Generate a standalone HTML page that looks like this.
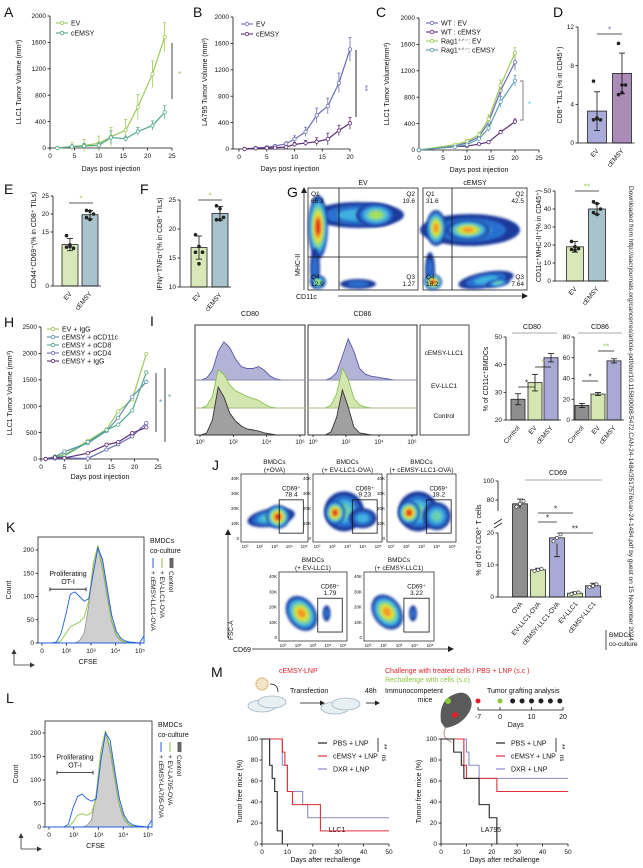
<!DOCTYPE html>
<html><head><meta charset="utf-8">
<style>
html,body{margin:0;padding:0;background:#fff;}
svg{display:block;font-family:"Liberation Sans",Arial,sans-serif;}
</style></head>
<body>
<svg id="fig" width="643" height="868" viewBox="0 0 643 868" xmlns="http://www.w3.org/2000/svg">
<defs><filter id="soft" x="-20%" y="-20%" width="140%" height="140%"><feGaussianBlur stdDeviation="1.3"/></filter></defs>
</svg>
<script>
// ---------- DATA ----------
const aDays=[1.5,4.5,7,10,12.5,15.5,18,21,23.5];
const aEV=[0,20,40,70,170,270,620,1120,1680];
const aEVerr=[10,60,90,110,140,160,190,200,220];
const aCE=[0,20,30,40,160,140,250,340,540];
const aCEerr=[10,30,40,40,100,40,60,70,100];

const bDays=[1,3,5,6.5,8.5,10,12,14,16,18,20];
const bEV=[0,15,25,45,80,150,260,510,650,1000,1510];
const bEVerr=[5,10,15,20,30,50,70,110,120,150,180];
const bCE=[0,10,15,20,30,70,90,110,150,280,390];
const bCEerr=[5,5,10,10,15,30,40,60,90,80,90];

const cDays=[0,7.5,10,12.5,14.5,17,20];
const cWTEV=[0,60,110,200,420,900,1330];
const cWTEVerr=[0,20,30,40,60,100,120];
const cWTCE=[0,50,60,90,120,270,430];
const cWTCEerr=[0,15,20,20,20,30,40];
const cRagEV=[0,80,130,230,470,980,1470];
const cRagEVerr=[0,20,30,40,60,80,80];
const cRagCE=[0,50,80,170,330,730,1050];
const cRagCEerr=[0,15,20,30,50,80,80];

const hDays=[1,3,5,10,14,16.5,19.5,22.5];
const hEVIgG=[0,50,80,340,560,900,1130,1990];
const hCD11c=[0,40,140,300,530,780,1180,1460];
const hCD8=[0,30,60,320,550,650,920,1640];
const hCD4=[0,10,20,10,180,280,430,680];
const hIgG=[0,30,20,110,270,320,490,600];

const barCats2=['EV','cEMSY'];
const dVals=[3.3,7.2], dErr=[2.0,2.1];
const dDotsEV=[6.4,2.6,2.4,2.4,2.5], dDotsCE=[10.3,6.0,6.0,5.0,5.2];
const eVals=[11.5,19.8], eErr=[1.7,1.2];
const eDotsEV=[14,11,10.5,10.8,11.4], eDotsCE=[21,20.8,20,19,18.5];
const fVals=[16.8,22.7], fErr=[2.0,1.2];
const fDotsEV=[19,17,16,16,14], fDotsCE=[24,23.5,22,21.6,21.6];
const gVals=[19,40], gErr=[3,3];
const gDotsEV=[22,19,18,17.5,17], gDotsCE=[44,43,40,38,37];
const iCats=['Control','EV','cEMSY'];
const i80Vals=[27.5,33.5,42.5], i80Err=[2,3,1.5];
const i86Vals=[14,25,57], i86Err=[2,1.5,2];
const jCats=['OVA','EV-LLC1-OVA','cEMSY-LLC1-OVA','EV-LLC1','cEMSY-LLC1'];
const jVals=[76,8.5,18.5,1.2,3.5], jErr=[5,0.5,1.8,0.4,0.8];

const sLLCpbsT=[0,3,4,5,6,8], sLLCpbsV=[100,75,62.5,50,12.5,0];
const sLLCceT=[0,8,9,10,12,23], sLLCceV=[100,87.5,75,50,37.5,12.5];
const sLLCdxT=[0,8,10,16,18], sLLCdxV=[100,75,50,37.5,25];
const sLApbsT=[0,5,8,9,15,19,22], sLApbsV=[100,87.5,75,62.5,37.5,25,0];
const sLAceT=[0,9,10,22], sLAceV=[100,75,62.5,50];
const sLAdxT=[0,10,11,15], sLAdxV=[100,87.5,75,62.5];

const kBlue=[0,0,0,0,2,20,60,105,110,100,90,95,150,205,180,120,60,25,10,4,2,1,0,15];
const kGreen=[0,0,0,0,0,5,20,35,40,45,55,90,170,210,170,110,50,20,6,2,1,0,0,0];
const kGray=[0,0,0,0,0,0,0,0,0,5,20,80,170,205,160,100,45,15,5,1,0,0,0,0];
const lBlue=[0,0,0,0,0,5,40,65,70,60,55,60,140,200,185,120,60,25,10,4,2,1,0,15];
const lGreen=[0,0,0,0,0,0,10,25,28,25,30,60,160,205,170,110,50,20,6,2,1,0,0,0];
const lGray=[0,0,0,0,0,0,0,0,0,3,15,70,160,205,160,100,45,15,5,1,0,0,0,0];
const cd80Ce=[0,0,2,10,30,40,34,22,14,12,12,14,10,4,1,0,0,0,0,0];
const cd80Ev=[0,0,2,12,40,35,24,18,15,12,10,8,4,1,0,0,0,0,0,0];
const cd80Ctl=[0,0,2,15,48,38,22,14,9,6,5,4,2,1,0,0,0,0,0,0];
const cd86Ce=[0,0,0,0,2,8,25,43,30,12,6,4,3,2,1,0,0,0,0,0];
const cd86Ev=[0,0,0,0,3,15,42,30,10,3,1,0,0,0,0,0,0,0,0,0];
const cd86Ctl=[0,0,0,0,3,18,45,28,8,2,1,0,0,0,0,0,0,0,0,0];

// ---------- HELPERS ----------
const NS='http://www.w3.org/2000/svg';
const svg=document.getElementById('fig');
function mk(tag,attrs,name,parent){
  const el=document.createElementNS(NS,tag);
  for(const k in attrs) el.setAttribute(k,attrs[k]);
  
  
  (parent||svg).appendChild(el);
  return el;
}
function txt(x,y,s,name,o){
  o=o||{};
  const a={x:x,y:y,'font-size':o.fs||6.5,'text-anchor':o.a||'start',fill:o.fill||'#111'};
  if(o.rot!==undefined) a.transform='rotate('+o.rot+' '+x+' '+y+')';
  if(o.fw) a['font-weight']=o.fw;
  if(o.st) a['font-style']=o.st;
  const t=mk('text',a,name);
  t.textContent=s;
  return t;
}
function ln(x1,y1,x2,y2,name,c,w){return mk('line',{x1:x1,y1:y1,x2:x2,y2:y2,stroke:c||'#111','stroke-width':w||0.8},name);}
function lin(d0,d1,r0,r1){return v=>r0+(v-d0)*(r1-r0)/(d1-d0);}
function letter(x,y,s){txt(x,y,s,'panel-label-'+s.toLowerCase(),{fs:14});}

function axes(c){
  const xs=lin(c.xmin,c.xmax,c.x0,c.x1), ys=c.ys||lin(c.ymin,c.ymax,c.yb,c.yt);
  ln(c.ax||c.x0,c.yb,c.ax||c.x0,c.yt,'y-axis');
  c.yticks.forEach(v=>{const y=ys(v);ln((c.ax||c.x0)-2.5,y,c.ax||c.x0,y,'y-tick');txt((c.ax||c.x0)-4,y+2.2,String(v),'y-tick-label',{a:'end'});});
  if(c.xticks){
    ln(c.ax||c.x0,c.yb,c.x1,c.yb,'x-axis');
    c.xticks.forEach(v=>{const x=xs(v);ln(x,c.yb,x,c.yb+2.5,'x-tick');txt(x,c.yb+10,String(v),'x-tick-label',{a:'middle'});});
  }
  return {xs,ys};
}
function lineChart(c){
  const s=axes(c);
  c.series.forEach(se=>{
    const pts=c.days.map((d,i)=>s.xs(d)+','+s.ys(se.vals[i])).join(' ');
    if(se.err) c.days.forEach((d,i)=>{const x=s.xs(d);ln(x,s.ys(se.vals[i]-se.err[i]),x,s.ys(se.vals[i]+se.err[i]),'error-bar',se.color,0.8);
      ln(x-1.5,s.ys(se.vals[i]+se.err[i]),x+1.5,s.ys(se.vals[i]+se.err[i]),'error-cap',se.color,0.8);});
    mk('polyline',{points:pts,fill:'none',stroke:se.color,'stroke-width':1.2},'line-'+se.name);
    c.days.forEach((d,i)=>{mk('circle',{cx:s.xs(d),cy:s.ys(se.vals[i]),r:1.7,fill:'#fff',stroke:se.color,'stroke-width':0.8},'point-'+se.name);});
  });
  if(c.legend) c.series.forEach((se,i)=>{const y=c.legend[1]+i*c.legend[2];
    ln(c.legend[0],y,c.legend[0]+12,y,'legend-line',se.color,1.1);
    mk('circle',{cx:c.legend[0]+6,cy:y,r:1.7,fill:'#fff',stroke:se.color,'stroke-width':0.8},'legend-marker');
    txt(c.legend[0]+15,y+2.3,se.label,'legend-entry',{fs:7});});
  return s;
}
function barChart(c){
  const s=axes(c);
  c.vals.forEach((v,i)=>{
    const x=c.centers[i], y=s.ys(v);
    mk('rect',{x:x-c.bw/2,y:y,width:c.bw,height:c.yb-y,fill:c.colors[i],stroke:'#222','stroke-width':0.8},'bar-'+c.cats[i]);
    ln(x,s.ys(v-c.err[i]),x,s.ys(v+c.err[i]),'error-bar','#111',0.8);
    ln(x-3,s.ys(v+c.err[i]),x+3,s.ys(v+c.err[i]),'error-cap','#111',0.8);
    ln(x-3,s.ys(v-c.err[i]),x+3,s.ys(v-c.err[i]),'error-cap','#111',0.8);
    if(c.dots&&c.dots[i]) c.dots[i].forEach((d,j)=>{mk('circle',{cx:x+(j%3-1)*3.5,cy:s.ys(d),r:1.5,fill:c.dotFill||'#222',stroke:'#222','stroke-width':0.6},'data-dot');});
    txt(x+2,c.yb+8,c.cats[i],'x-category-label',{a:'end',rot:-50,fs:6.5});
  });
  ln(c.ax,c.yb,c.centers[c.centers.length-1]+c.bw/2+3,c.yb,'x-axis');
  return s;
}
function sig(x1,x2,y,star,col){ln(x1,y,x2,y,'significance-line','#222',0.8);txt((x1+x2)/2,y-1.5,star,'significance-star',{a:'middle',fill:col||'#222',fs:8});}
function survival(c,T,V,color,name){
  const xs=lin(0,50,c.x0,c.x1), ys=lin(0,100,c.yb,c.yt);
  let d='M'+xs(T[0])+','+ys(V[0]);
  for(let i=1;i<T.length;i++){d+=' H'+xs(T[i])+' V'+ys(V[i]);}
  if(V[V.length-1]!==0) d+=' H'+xs(50);
  mk('path',{d:d,fill:'none',stroke:color,'stroke-width':1.1},name);
}
function survAxes(c,title){
  axes({x0:c.x0,x1:c.x1,xmin:0,xmax:50,yb:c.yb,yt:c.yt,ymin:0,ymax:100,yticks:[0,20,40,60,80,100],xticks:[0,10,20,30,40,50]});
  txt(c.x0-20,(c.yb+c.yt)/2,'Tumor free mice (%)','y-axis-title',{a:'middle',rot:-90,fs:7});
  txt((c.x0+c.x1)/2,c.yb+18,'Days after rechallenge','x-axis-title',{a:'middle',fs:7});
  txt(c.x0+(title==='LLC1'?75:50),c.yb-12,title,'plot-title',{a:'middle',fs:7});
}
const flowCols=['#1d3b9c','#2a6fd0','#3fb0e0','#6ad0b0','#a8de5a','#e8e236','#f29a28','#e2341c'];
function blob(cx,cy,rx,ry,lev,rot,name){
  const g=mk('g',{transform:'rotate('+(rot||0)+' '+cx+' '+cy+')',filter:'url(#soft)'},name);
  for(let i=0;i<lev;i++){const f=1-i/lev*0.85;
    mk('ellipse',{cx:cx,cy:cy,rx:rx*f,ry:ry*f,fill:flowCols[i]},'density-level',g);}
}
function histo(x0,x1,base,arr,maxH,maxV,fill,stroke,name,fillOp){
  const n=arr.length; let d='M'+x0+','+base;
  arr.forEach((v,i)=>{d+=' L'+(x0+(x1-x0)*i/(n-1)).toFixed(1)+','+(base-v/maxV*maxH).toFixed(1);});
  d+=' L'+x1+','+base+' Z';
  mk('path',{d:d,fill:fill,'fill-opacity':fillOp===undefined?1:fillOp,stroke:stroke,'stroke-width':0.9},name);
}

// ---------- PANEL A ----------
letter(4,17,'A');
lineChart({x0:50,x1:172,xmin:0,xmax:25,yb:148,yt:16,ymin:0,ymax:2000,xticks:[0,5,10,15,20,25],yticks:[0,400,800,1200,1600,2000],
  days:aDays,legend:[56,23,10],series:[{name:'ev',label:'EV',vals:aEV,err:aEVerr,color:'#9dc95a'},{name:'cemsy',label:'cEMSY',vals:aCE,err:aCEerr,color:'#4fa88c'}]});
txt(21,82,'LLC1  Tumor Volume (mm³)','y-axis-title',{a:'middle',rot:-90,fs:7});
txt(111,171,'Days post injection','x-axis-title',{a:'middle',fs:7});
ln(172,43,172,99,'significance-bracket','#333',0.9);txt(178,77,'*','significance-star',{fill:'#9dc95a',fs:8});

// ---------- PANEL B ----------
letter(193,17,'B');
lineChart({x0:239,ax:233,x1:350,xmin:0,xmax:20,yb:149,yt:17,ymin:0,ymax:2000,xticks:[0,5,10,15,20],yticks:[0,400,800,1200,1600,2000],
  days:bDays,legend:[241,24,10],series:[{name:'ev',label:'EV',vals:bEV,err:bEVerr,color:'#6a6ab8'},{name:'cemsy',label:'cEMSY',vals:bCE,err:bCEerr,color:'#5c2d78'}]});
txt(207,82,'LA795 Tumor Volume (mm³)','y-axis-title',{a:'middle',rot:-90,fs:7});
txt(290,171,'Days post injection','x-axis-title',{a:'middle',fs:7});
ln(356,50,356,117,'significance-bracket','#111',0.9);txt(362,85,'**','significance-star',{fill:'#6a6ab8',rot:90,fs:8});

// ---------- PANEL C ----------
letter(376,17,'C');
lineChart({x0:419,x1:539,xmin:0,xmax:25,yb:150,yt:18,ymin:0,ymax:2000,xticks:[0,5,10,15,20,25],yticks:[0,400,800,1200,1600,2000],
  days:cDays,legend:[426,23,9],series:[
   {name:'wt-ev',label:'WT : EV',vals:cWTEV,err:cWTEVerr,color:'#6a6ab8'},
   {name:'wt-cemsy',label:'WT : cEMSY',vals:cWTCE,err:cWTCEerr,color:'#5c2d78'},
   {name:'rag-ev',label:'Rag1⁺ᐟ⁻: EV',vals:cRagEV,err:cRagEVerr,color:'#9dc95a'},
   {name:'rag-cemsy',label:'Rag1⁺ᐟ⁻: cEMSY',vals:cRagCE,err:cRagCEerr,color:'#5b9db0'}]});
txt(389,84,'LLC1 Tumor Volume(mm³)','y-axis-title',{a:'middle',rot:-90,fs:7});
txt(479,172,'Days post injection','x-axis-title',{a:'middle',fs:7});
mk('path',{d:'M520,81 H523 V120 H520',fill:'none',stroke:'#777','stroke-width':0.9},'significance-bracket');
txt(528,107,'*','significance-star',{fill:'#5ec6d8',fs:8});

// ---------- PANEL D ----------
letter(553,17,'D');
barChart({ax:578,x0:578,x1:640,yb:143,yt:27,ys:lin(0,12,143,27),yticks:[0,4,8,12],cats:barCats2,vals:dVals,err:dErr,centers:[597,622],bw:19,
  colors:['#a9abd8','#a98cb8'],dots:[dDotsEV,dDotsCE]});
txt(562,85,'CD8⁺ TILs (% in CD45⁺)','y-axis-title',{a:'middle',rot:-90,fs:7});
sig(597,622,34,'*','#6a6ab8');

// ---------- PANEL E ----------
letter(4,194,'E');
barChart({ax:53,x0:53,x1:100,yb:286,yt:196,ys:lin(0,25,286,196),yticks:[0,15,20,25],cats:barCats2,vals:eVals,err:eErr,centers:[70,90],bw:16,
  colors:['#d8e8b8','#a9c3cc'],dots:[eDotsEV,eDotsCE]});
txt(36,240,'CD44⁺CD69⁺(% in CD8⁺ TILs)','y-axis-title',{a:'middle',rot:-90,fs:7});
sig(69,93,203,'*','#9dc95a');

// ---------- PANEL F ----------
letter(140,194,'F');
barChart({ax:180,x0:180,x1:232,yb:287,yt:200,ys:lin(10,25,287,200),yticks:[10,15,20,25],cats:barCats2,vals:fVals,err:fErr,centers:[199,220],bw:16,
  colors:['#d8e8b8','#a9c3cc'],dots:[fDotsEV,fDotsCE]});
txt(162,244,'IFNγ⁺TNFα⁺(% in CD8⁺ TILs)','y-axis-title',{a:'middle',rot:-90,fs:7});
sig(198,222,200,'*','#9dc95a');

// ---------- PANEL G (flow) ----------
letter(287,197,'G');
function gPanel(x0,x1,vx,title,blobs,nums){
  mk('rect',{x:x0,y:188,width:x1-x0,height:102,fill:'#fff',stroke:'#222','stroke-width':0.8},'flow-plot-frame');
  txt((x0+x1)/2,185,title,'flow-plot-title',{a:'middle',fs:7});
  blobs.forEach(b=>blob(b[0],b[1],b[2],b[3],b[4],b[5],'density-cluster'));
  ln(vx,188,vx,290,'quadrant-line-vertical');ln(x0,257,x1,257,'quadrant-line-horizontal');
  txt(x0+3,196,'Q1','quadrant-label');txt(x0+3,203,nums[0],'quadrant-value');
  txt(x1-3,196,'Q2','quadrant-label',{a:'end'});txt(x1-3,203,nums[1],'quadrant-value',{a:'end'});
  txt(x1-3,279,'Q3','quadrant-label',{a:'end'});txt(x1-3,286,nums[2],'quadrant-value',{a:'end'});
  txt(x0+3,279,'Q4','quadrant-label');txt(x0+3,286,nums[3],'quadrant-value');
}
gPanel(308,418,339,'EV',[[358,215,46,13,3,0],[318,227,10,32,8,0],[376,215,20,12,5,0],[315,268,5,20,2,0],[318,282,8,7,5,0],[358,284,18,5,2,0]],['66.3','19.6','1.27','12.9']);
gPanel(423,527,452,'cEMSY',[[470,230,50,16,3,0],[436,228,10,18,7,0],[468,230,22,10,7,0],[430,270,5,18,2,0],[433,282,9,8,8,0],[486,280,28,8,3,-10],[498,283,12,4,4,-10]],['31.6','42.5','7.64','18.2']);
ln(304,290,304,190,'y-axis-arrow','#222',0.8);mk('path',{d:'M301,193 L304,187 L307,193 Z',fill:'#222'},'arrowhead');
txt(300,276,'MHC-II','y-axis-title',{rot:-90,fs:7});
txt(296,299,'CD11c','x-axis-title',{fs:7});
ln(338,296,524,296,'x-axis-arrow','#222',0.8);mk('path',{d:'M522,293 L528,296 L522,299 Z',fill:'#222'},'arrowhead');
barChart({ax:555,x0:555,x1:610,yb:281,yt:191,ys:lin(0,50,281,191),yticks:[0,10,20,30,40,50],cats:barCats2,vals:gVals,err:gErr,centers:[575,597],bw:17,
  colors:['#d8e8b8','#a9c3cc'],dots:[gDotsEV,gDotsCE]});
txt(541,236,'CD11c⁺MHC-II⁺(% in CD45⁺)','y-axis-title',{a:'middle',rot:-90,fs:7});
sig(575,599,191,'**','#9dc95a');

// ---------- PANEL H ----------
letter(4,327,'H');
lineChart({x0:41,x1:158,xmin:0,xmax:25,yb:459,yt:327,ymin:0,ymax:2500,xticks:[0,5,10,15,20,25],yticks:[0,500,1000,1500,2000,2500],
  days:hDays,legend:[47,329,8],series:[
   {name:'ev-igg',label:'EV + IgG',vals:hEVIgG,color:'#9dc95a'},
   {name:'cemsy-acd11c',label:'cEMSY + αCD11c',vals:hCD11c,color:'#5d8fb0'},
   {name:'cemsy-acd8',label:'cEMSY + αCD8',vals:hCD8,color:'#4fa88c'},
   {name:'cemsy-acd4',label:'cEMSY + αCD4',vals:hCD4,color:'#6a6ab8'},
   {name:'cemsy-igg',label:'cEMSY + IgG',vals:hIgG,color:'#5c2d78'}]});
txt(12,393,'LLC1  Tumor Volume (mm³)','y-axis-title',{a:'middle',rot:-90,fs:7});
txt(100,479,'Days post injection','x-axis-title',{a:'middle',fs:7});
ln(156,373,156,432,'significance-bracket');ln(165,368,165,442,'significance-bracket');
txt(159,405,'*','significance-star',{fill:'#5d8fb0',fs:8});txt(168,400,'*','significance-star',{fill:'#4fa88c',fs:8});

// ---------- PANEL I ----------
letter(150,326,'I');
function iHist(x0,x1,title,arrs){
  mk('rect',{x:x0,y:325,width:x1-x0,height:110,fill:'#fff',stroke:'#222','stroke-width':0.9},'histogram-frame');
  txt((x0+x1)/2,316,title,'histogram-title',{a:'middle',fs:7});
  histo(x0,x1,380,arrs[0],43,45,'#b3b3d8','#5a5aa8','histogram-cemsy-llc1');
  ln(x0,380,x1,380,'row-separator','#bbb',0.5);
  histo(x0,x1,408,arrs[1],43,45,'#d3e6b0','#8cc050','histogram-ev-llc1');
  ln(x0,408,x1,408,'row-separator','#bbb',0.5);
  histo(x0,x1,435,arrs[2],48,48,'#a0a0a0','#333','histogram-control');
  ['10⁰','10²','10⁴','10⁶'].forEach((t,i)=>{const x=x0+5+(x1-x0-10)*i/3;ln(x,435,x,437,'x-tick');txt(x,444,t,'x-tick-label',{a:'middle',fs:6});});
}
iHist(195,305,'CD80',[cd80Ce,cd80Ev,cd80Ctl]);
iHist(308,417,'CD86',[cd86Ce,cd86Ev,cd86Ctl]);
mk('rect',{x:420,y:325,width:49,height:110,fill:'#fff',stroke:'#222','stroke-width':0.8},'legend-box');
txt(444,355,'cEMSY-LLC1','legend-entry',{a:'middle',fs:6.5});
txt(444,388,'EV-LLC1','legend-entry',{a:'middle',fs:6.5});
txt(444,418,'Control','legend-entry',{a:'middle',fs:6.5});
barChart({ax:506,x0:506,x1:560,yb:420,yt:337,ys:lin(20,50,420,337),yticks:[20,30,40,50],cats:iCats,vals:i80Vals,err:i80Err,centers:[518,535,551],bw:14,
  colors:['#8e8e8e','#d6e6b0','#a9a9d5']});
txt(532,329,'CD80','bar-chart-title',{a:'middle',fs:7});ln(512,333,557,333,'title-line','#555',0.6);
sig(518,535,387,'*');sig(535,551,367,'*','#9dc95a');
txt(488,379,'% of CD11c⁺BMDCs','y-axis-title',{a:'middle',rot:-90,fs:7});
barChart({ax:574,x0:574,x1:622,yb:420,yt:337,ys:lin(0,80,420,337),yticks:[0,20,40,60,80],cats:iCats,vals:i86Vals,err:i86Err,centers:[582,598,614],bw:14,
  colors:['#8e8e8e','#d6e6b0','#a9a9d5']});
txt(600,329,'CD86','bar-chart-title',{a:'middle',fs:7});ln(578,333,622,333,'title-line','#555',0.6);
sig(582,598,381,'*');sig(598,614,351,'**','#9dc95a');

// ---------- PANEL J ----------
letter(212,470,'J');
function jPanel(x0,y0,x1,y1,t1,t2,val,blobs){
  mk('rect',{x:x0,y:y0,width:x1-x0,height:y1-y0,fill:'#fff',stroke:'#333','stroke-width':0.8},'flow-plot-frame');
  txt((x0+x1)/2,y0-10,t1,'flow-plot-title',{a:'middle',fs:6.5});txt((x0+x1)/2,y0-2,t2,'flow-plot-title',{a:'middle',fs:6.5});
  blobs.forEach(b=>blob(x0+b[0]*(x1-x0),y0+b[1]*(y1-y0),b[2],b[3],b[4],b[5],'density-cluster'));
  const w=x1-x0,h=y1-y0;
  mk('rect',{x:x0+0.57*w,y:y0+0.38*h,width:0.36*w,height:0.49*h,fill:'none',stroke:'#111','stroke-width':0.8},'cd69-gate');
  txt(x0+0.75*w,y0+0.24*h,'CD69⁺','gate-label',{a:'middle',fs:6});txt(x0+0.75*w,y0+0.33*h,val,'gate-value',{a:'middle',fs:6.5});
  ['40K','30K','20K','10K','0'].forEach((t,i)=>txt(x0-2,y0+6+i*(h-8)/4,t,'y-tick-label',{a:'end',fs:4.5}));
  ['10⁰','10²','10³','10⁴','10⁵'].forEach((t,i)=>txt(x0+4+i*(w-8)/4,y1+6,t,'x-tick-label',{a:'middle',fs:4.5}));
}
jPanel(241,474,308,542,'BMDCs','(+OVA)','78.4',[[0.45,0.64,24,9,4,-10],[0.55,0.63,12,12,8,0]]);
jPanel(313,474,382,542,'BMDCs','(+ EV-LLC1-OVA)','9.23',[[0.45,0.55,20,20,4,0],[0.72,0.65,14,10,3,0],[0.32,0.57,10,12,8,0]]);
jPanel(387,474,456,542,'BMDCs','(+ cEMSY-LLC1-OVA)','18.2',[[0.45,0.55,20,20,4,0],[0.72,0.62,14,14,4,0],[0.32,0.57,11,12,8,0]]);
jPanel(279,572,347,641,'BMDCs','(+ EV-LLC1)','1.79',[[0.33,0.6,14,19,7,-35],[0.7,0.6,4,8,2,0]]);
jPanel(364,572,434,641,'BMDCs','(+ cEMSY-LLC1)','3.22',[[0.33,0.58,14,19,7,-35],[0.7,0.6,4,8,2,0]]);
ln(228,638,228,532,'y-axis-arrow','#222',0.8);mk('path',{d:'M225,535 L228,529 L231,535 Z',fill:'#222'},'arrowhead');
txt(233,640,'FSC-A','y-axis-title',{rot:-90,fs:6.5});
txt(233,652,'CD69','x-axis-title',{fs:7});
ln(252,649,450,649,'x-axis-arrow','#222',0.8);mk('path',{d:'M448,646 L454,649 L448,652 Z',fill:'#222'},'arrowhead');
// J bar with broken axis
const jY=v=>v<=20?597-v*(597-533)/20:500-(v-80)*(500-481)/20;
ln(498,597,498,533,'y-axis');ln(498,511,498,481,'y-axis');
mk('path',{d:'M494,524 L502,519 M494,528 L502,523',stroke:'#222','stroke-width':0.8,fill:'none'},'axis-break');
[0,10,20,80,100].forEach(v=>{ln(495.5,jY(v),498,jY(v),'y-tick');txt(494,jY(v)+2.2,String(v),'y-tick-label',{a:'end'});});
const jCols=['#8e8e8e','#d6e6b0','#a9a9d5','#d6e6b0','#a9a9d5'];
const jX=[520,538,557,575,593];
jVals.forEach((v,i)=>{const y=jY(v),x=jX[i];
  mk('rect',{x:x-7.5,y:y,width:15,height:597-y,fill:jCols[i],stroke:'#222','stroke-width':0.8},'bar-'+jCats[i]);
  ln(x,jY(v-jErr[i]),x,jY(v+jErr[i]),'error-bar');ln(x-3,jY(v+jErr[i]),x+3,jY(v+jErr[i]),'error-cap');
  [-1,0,1].forEach(o=>{mk('circle',{cx:x+o*3.5,cy:jY(v+o*jErr[i]*0.6),r:1.6,fill:'#fff',stroke:'#222','stroke-width':0.6},'data-dot');});
  txt(x+3,604,jCats[i],'x-category-label',{a:'end',rot:-50,fs:6.5});});
ln(498,597,602,597,'x-axis');
txt(558,475,'CD69','bar-chart-title',{a:'middle',fs:7});ln(525,480,602,480,'title-line','#555',0.6);
sig(538,573,513,'*');sig(538,557,522,'*');sig(557,593,533,'**');
txt(481,540,'% of OT-I CD8⁺ T cells','y-axis-title',{a:'middle',rot:-90,fs:7});
ln(606,630,606,650,'bracket','#222',0.8);txt(609,637,'BMDCs','legend-entry',{fs:6.5});txt(609,646,'co-culture','legend-entry',{fs:6.5});

// ---------- PANELS K & L ----------
function prolif(c,blue,green,gray,ltext){
  letter(c.lx,c.ly,c.L);
  mk('rect',{x:c.x0,y:c.top,width:c.x1-c.x0,height:c.yb-c.top,fill:'#fff',stroke:'#222','stroke-width':0.8},'histogram-frame');
  const ys=lin(0,200,c.yb,c.y200);
  [0,50,100,150,200].forEach(v=>{ln(c.x0-2.5,ys(v),c.x0,ys(v),'y-tick');txt(c.x0-4,ys(v)+2.2,String(v),'y-tick-label',{a:'end'});});
  ['0','10²','10³','10⁴','10⁵'].forEach((t,i)=>{const x=c.x0+4+(c.x1-c.x0-8)*i/4;ln(x,c.yb,x,c.yb+2.5,'x-tick');txt(x,c.yb+10,t,'x-tick-label',{a:'middle'});});
  histo(c.x0,c.x1,c.yb,gray,c.yb-c.y200,200,'#cfcfcf','#999','histogram-control');
  histo(c.x0,c.x1,c.yb,green,c.yb-c.y200,200,'none','#8cc63f','histogram-ev-ova');
  histo(c.x0,c.x1,c.yb,blue,c.yb-c.y200,200,'none','#1f5fe0','histogram-cemsy-ova');
  const py=ys(120);
  txt(c.x0+30,py-11,'Proliferating','annotation',{a:'middle',fs:7});txt(c.x0+30,py-3,'OT-I','annotation',{a:'middle',fs:7});
  ln(c.x0+12,py+2,c.x0+48,py+2,'proliferation-range');ln(c.x0+12,py,c.x0+12,py+4,'range-cap');ln(c.x0+48,py,c.x0+48,py+4,'range-cap');
  txt(c.x0-27,(c.yb+c.top)/2,'Count','y-axis-title',{a:'middle',rot:-90,fs:7});
  txt((c.x0+c.x1)/2-3,c.yb+21,'CFSE','x-axis-title',{a:'middle',fs:7});
  ln(c.x0-24,c.yb+22,c.x0-24,c.yb+8,'axis-arrow','#333',0.8);ln(c.x0-24,c.yb+22,c.x0-6,c.yb+22,'axis-arrow','#333',0.8);
  mk('path',{d:'M'+(c.x0-26.5)+','+(c.yb+11)+' l2.5,-5 l2.5,5 Z M'+(c.x0-8)+','+(c.yb+19.5)+' l5,2.5 l-5,2.5 Z',fill:'#333'},'arrowheads');
  const lx=c.x1+7;
  txt(lx-1,c.top+6,'BMDCs','legend-title',{fs:7});txt(lx-1,c.top+16,'co-culture','legend-title',{fs:7});
  ln(lx+2,c.top+21,lx+2,c.top+31,'legend-line-blue','#1f5fe0',1);ln(lx+11,c.top+21,lx+11,c.top+31,'legend-line-green','#8cc63f',1);
  mk('rect',{x:lx+18.5,y:c.top+21,width:4,height:10,fill:'#666'},'legend-swatch-control');
  txt(lx,c.top+34,'+ cEMSY-'+ltext+'-OVA','legend-entry',{rot:90,fs:6.5});
  txt(lx+9,c.top+34,'+ EV-'+ltext+'-OVA','legend-entry',{rot:90,fs:6.5});
  txt(lx+18,c.top+34,'Control','legend-entry',{rot:90,fs:6.5});
}
prolif({L:'K',lx:6,ly:532,x0:38,x1:144,top:537,yb:643,y200:550},kBlue,kGreen,kGray,'LLC1');
prolif({L:'L',lx:6,ly:703,x0:45,x1:152,top:721,yb:827,y200:733},lBlue,lGreen,lGray,'LA795');

// ---------- PANEL M ----------
letter(211,677,'M');
txt(279,673,'cEMSY-LNP','annotation',{fill:'#e0202a',fs:7});
mk('circle',{cx:262,cy:684,r:6,fill:'#f4e4c8',stroke:'#d9a860','stroke-width':1.5,'stroke-dasharray':'1.2 1'},'lnp-particle');
mk('path',{d:'M270,684 q8,0 8,8',fill:'none',stroke:'#222','stroke-width':0.8},'arrow');
[[262,706],[272,702],[335,708],[346,704]].forEach(p=>mk('ellipse',{cx:p[0],cy:p[1],rx:14,ry:6,fill:'#e8f0f4',stroke:'#9fb4c0','stroke-width':0.8},'petri-dish'));
txt(290,693,'Transfection','annotation',{fs:7});
ln(300,703,322,703,'arrow');mk('path',{d:'M320,700.5 l5,2.5 l-5,2.5 Z',fill:'#222'},'arrowhead');
txt(365,693,'48h','annotation',{fs:7});
ln(366,703,377,703,'arrow');mk('path',{d:'M375,700.5 l5,2.5 l-5,2.5 Z',fill:'#222'},'arrowhead');
txt(385,673,'Challenge with treated cells / PBS + LNP (s.c )','annotation',{fill:'#e0202a',fs:7});
txt(385,682,'Rechallenge with cells (s.c)','annotation',{fill:'#8cc63f',fs:7});
txt(385,693,'Immunocompetent','annotation',{fs:7});txt(425,702,'mice','annotation',{a:'middle',fs:7});
mk('path',{d:'M441,722 Q438,700 455,694 Q465,690 470,698 Q474,705 468,714 Q460,726 445,728 Z',fill:'#5a5a5a'},'mouse-icon');
mk('path',{d:'M446,727 Q440,738 452,742',fill:'none',stroke:'#b78a8a','stroke-width':1},'mouse-tail');
mk('circle',{cx:448,cy:701,r:3,fill:'#8cc63f'},'rechallenge-site');mk('circle',{cx:455,cy:715,r:3,fill:'#e0202a'},'challenge-site');
txt(487,693,'Tumor grafting analysis','annotation',{fs:7});
const tx=lin(-7,20,478,563);
mk('circle',{cx:tx(-7),cy:701,r:2.5,fill:'#e0202a'},'timeline-challenge');
mk('circle',{cx:tx(0),cy:701,r:2.5,fill:'#8cc63f'},'timeline-rechallenge');
[4,7,10,13,16,19].forEach(d=>mk('circle',{cx:tx(d),cy:701,r:2.5,fill:'#222'},'timeline-analysis'));
ln(tx(-7),710,tx(20),710,'timeline-axis');
[-7,0,10,20].forEach(d=>{ln(tx(d),710,tx(d),707,'timeline-tick');txt(tx(d),719,String(d),'timeline-label',{a:'middle',fs:7});});
txt(tx(5),727,'Days','timeline-title',{a:'middle',fs:7});

const s1={x0:262,x1:389,yb:844,yt:739}, s2={x0:441,x1:568,yb:844,yt:739};
survAxes(s1,'LLC1');survAxes(s2,'LA795');
survival(s1,sLLCdxT,sLLCdxV,'#8a8ad0','survival-dxr-llc1');
survival(s1,sLLCceT,sLLCceV,'#e0303a','survival-cemsy-llc1');
survival(s1,sLLCpbsT,sLLCpbsV,'#222','survival-pbs-llc1');
survival(s2,sLAdxT,sLAdxV,'#8a8ad0','survival-dxr-la795');
survival(s2,sLAceT,sLAceV,'#e0303a','survival-cemsy-la795');
survival(s2,sLApbsT,sLApbsV,'#222','survival-pbs-la795');
function survLegend(x){
  [['PBS + LNP','#222'],['cEMSY + LNP','#e0303a'],['DXR + LNP','#8a8ad0']].forEach((e,i)=>{const y=743+i*13;
    ln(x,y,x+9,y,'legend-line',e[1],1.2);txt(x+15,y+2.5,e[0],'legend-entry',{fs:7});});
  ln(x+60,738,x+60,752,'significance-bracket');txt(x+64,744,'**','significance-star',{rot:90,fs:7});txt(x+64,755,'ns','significance-label',{rot:90,fs:6});
}
survLegend(318);survLegend(496);

// ---------- side watermark ----------
txt(629,186,'Downloaded from http://aacrjournals.org/cancerres/article-pdf/doi/10.1158/0008-5472.CAN-24-1484/3517576/can-24-1484.pdf by guest on 15 November 2024','download-watermark',{rot:90,fs:6.5,fill:'#222'});
</script>
</body></html>
